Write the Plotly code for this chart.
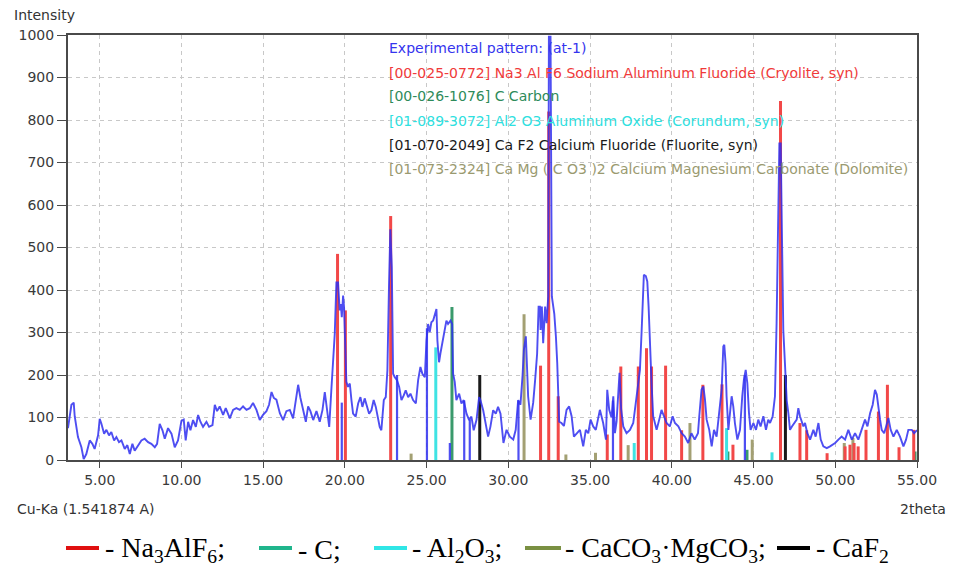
import plotly.graph_objects as go

# ---------------- data ----------------
exp_x = [3.06, 3.27, 3.41, 3.47, 3.67, 3.88, 4.02, 4.18, 4.39, 4.55, 4.69, 4.90, 5.00, 5.10, 5.27, 5.41, 5.57, 5.71, 5.88, 6.02,
         6.18, 6.33, 6.53, 6.69, 6.84, 7.00, 7.14, 7.35, 7.55, 7.75, 7.96, 8.16, 8.37, 8.51, 8.67, 8.84, 8.98, 9.18, 9.39, 9.59,
         9.79, 10.00, 10.14, 10.26, 10.41, 10.55, 10.71, 10.88, 11.02, 11.16, 11.32, 11.53, 11.69, 11.90, 12.04, 12.18, 12.34, 12.55, 12.71, 12.96,
         13.16, 13.36, 13.57, 13.77, 13.98, 14.18, 14.38, 14.59, 14.79, 14.99, 15.20, 15.36, 15.51, 15.65, 15.81, 16.02, 16.22, 16.42, 16.63, 16.83,
         17.04, 17.14, 17.28, 17.44, 17.61, 17.75, 17.89, 18.06, 18.26, 18.46, 18.63, 18.77, 18.87, 19.04, 19.17, 19.28, 19.38, 19.48, 19.58, 19.68,
         19.75, 19.81, 19.89, 19.95, 20.09, 20.19, 20.30, 20.40, 20.50, 20.66, 20.81, 20.95, 21.07, 21.21, 21.32, 21.48, 21.62, 21.76, 21.89, 22.03,
         22.13, 22.23, 22.38, 22.50, 22.60, 22.70, 22.78, 22.87, 22.95, 23.05, 23.19, 23.32, 23.46, 23.60, 23.72, 23.87, 24.01, 24.17, 24.34, 24.48,
         24.62, 24.74, 24.89, 24.99, 25.09, 25.19, 25.29, 25.40, 25.50, 25.60, 25.66, 25.76, 25.84, 25.97, 26.11, 26.21, 26.31, 26.46, 26.56, 26.62,
         26.72, 26.82, 26.99, 27.13, 27.27, 27.44, 27.60, 27.74, 27.88, 28.05, 28.21, 28.29, 28.46, 28.60, 28.76, 28.90, 29.07, 29.23, 29.37, 29.52,
         29.60, 29.70, 29.89, 30.09, 30.30, 30.45, 30.60, 30.74, 30.87, 30.95, 31.07, 31.15, 31.21, 31.36, 31.52, 31.64, 31.76, 31.85, 31.93, 31.97,
         32.05, 32.13, 32.25, 32.34, 32.44, 32.48, 32.58, 32.66, 32.81, 32.91, 32.99, 33.11, 33.25, 33.40, 33.56, 33.72, 33.87, 34.01, 34.17, 34.38,
         34.58, 34.74, 34.89, 35.03, 35.19, 35.35, 35.60, 35.80, 35.97, 36.05, 36.17, 36.31, 36.42, 36.52, 36.62, 36.72, 36.80, 36.90, 37.03, 37.23,
         37.44, 37.64, 37.80, 37.90, 38.05, 38.15, 38.22, 38.29, 38.41, 38.50, 38.58, 38.66, 38.76, 38.86, 39.07, 39.23, 39.37, 39.52, 39.68, 39.88,
         40.05, 40.19, 40.40, 40.60, 40.80, 41.00, 41.20, 41.40, 41.60, 41.68, 41.82, 41.93, 42.03, 42.13, 42.29, 42.44, 42.58, 42.74, 42.90, 43.05,
         43.15, 43.21, 43.29, 43.35, 43.46, 43.56, 43.66, 43.76, 43.86, 44.01, 44.17, 44.31, 44.41, 44.52, 44.62, 44.72, 44.82, 44.99, 45.15, 45.29,
         45.43, 45.60, 45.76, 45.90, 46.01, 46.17, 46.31, 46.41, 46.48, 46.58, 46.66, 46.74, 46.82, 46.92, 47.03, 47.13, 47.23, 47.35, 47.64, 47.74,
         47.84, 48.05, 48.15, 48.29, 48.46, 48.66, 48.80, 48.97, 49.11, 49.27, 49.48, 49.68, 49.99, 50.19, 50.39, 50.60, 50.80, 51.01, 51.21, 51.41,
         51.62, 51.82, 51.97, 52.13, 52.29, 52.43, 52.54, 52.64, 52.74, 52.84, 52.99, 53.11, 53.25, 53.39, 53.56, 53.76, 53.96, 54.17, 54.33, 54.47,
         54.68, 54.82, 55.00]
exp_y = [75, 130, 135, 103, 54, 30, 2, 14, 46, 38, 26, 58, 97, 86, 62, 71, 58, 66, 46, 54,
         42, 46, 26, 35, 14, 38, 22, 35, 46, 50, 42, 38, 30, 38, 85, 70, 50, 75, 62, 30,
         46, 92, 95, 46, 90, 70, 94, 78, 106, 90, 78, 90, 78, 82, 130, 115, 126, 106, 122, 98,
         118, 122, 118, 126, 118, 122, 134, 118, 94, 106, 115, 130, 160, 146, 142, 110, 94, 115, 118, 98,
         150, 177, 146, 118, 90, 126, 115, 94, 115, 90, 118, 160, 126, 78, 164, 234, 297, 418, 418, 352,
         367, 336, 387, 359, 184, 172, 180, 141, 109, 102, 133, 148, 125, 145, 129, 109, 117, 141, 125, 102,
         78, 70, 141, 148, 211, 414, 543, 453, 203, 195, 188, 172, 141, 152, 164, 148, 156, 141, 133, 188,
         219, 203, 195, 281, 320, 301, 324, 328, 344, 355, 281, 230, 250, 281, 312, 328, 320, 328, 320, 203,
         184, 141, 156, 133, 141, 109, 94, 102, 70, 94, 148, 141, 117, 86, 55, 78, 117, 109, 125, 109,
         80, 40, 71, 55, 48, 71, 141, 130, 200, 259, 291, 229, 150, 95, 135, 189, 250, 361, 361, 306,
         361, 275, 361, 322, 385, 996, 996, 385, 344, 290, 229, 90, 87, 80, 118, 126, 103, 55, 63, 71,
         32, 71, 63, 95, 79, 71, 118, 87, 48, 165, 118, 100, 150, 63, 90, 150, 205, 120, 79, 63,
         71, 87, 134, 165, 212, 300, 400, 436, 433, 420, 361, 267, 181, 103, 71, 95, 118, 103, 87, 79,
         103, 87, 79, 63, 55, 40, 63, 48, 63, 103, 166, 173, 142, 95, 71, 32, 71, 55, 111, 166,
         267, 271, 228, 150, 71, 118, 150, 126, 87, 48, 71, 150, 189, 212, 181, 111, 71, 87, 71, 95,
         79, 103, 71, 95, 87, 103, 150, 322, 479, 745, 745, 502, 306, 228, 140, 110, 71, 79, 95, 122,
         103, 79, 87, 63, 48, 71, 55, 87, 48, 32, 28, 32, 40, 48, 55, 48, 71, 48, 63, 48,
         71, 95, 79, 110, 130, 165, 154, 118, 95, 71, 63, 79, 99, 71, 55, 71, 55, 32, 48, 71,
         71, 63, 70]

# vertical drop-outs of the experimental pattern
drop_x = [19.81, 23.19, 25.02, 26.42, 27.30, 27.64, 30.62, 36.40, 44.47]
drop_y = [135, 200, 310, 40, 140, 95, 140, 140, 200]

# reference patterns (stick positions / intensities)
na3alf6_x = [19.55, 20.03, 22.80, 31.97, 32.47, 33.05, 36.05, 36.88, 37.95, 38.45, 38.76, 39.62, 40.60, 41.90, 43.07,
             43.74, 46.65, 47.84, 48.25, 49.50, 50.60, 50.90, 51.15, 51.40, 51.88, 52.64, 53.19, 53.90, 54.80]
na3alf6_y = [485, 352, 574, 222, 820, 150, 60, 220, 220, 263, 220, 222, 70, 177, 178,
             36, 845, 87, 70, 16, 32, 36, 40, 32, 71, 114, 177, 30, 71]
carbon_x = [26.55, 43.43, 44.60, 54.88]
carbon_y = [360, 20, 24, 20]
al2o3_x = [25.56, 37.70, 43.35, 46.13]
al2o3_y = [265, 40, 75, 18]
caf2_x = [28.25, 46.95]
caf2_y = [200, 200]
dolomite_x = [24.05, 30.96, 33.52, 35.33, 37.33, 41.11, 44.92, 50.55, 51.08]
dolomite_y = [15, 343, 13, 17, 35, 87, 48, 40, 52]

ref_labels = ["Experimental pattern: (at-1)",
              "[00-025-0772] Na3 Al F6 Sodium Aluminum Fluoride (Cryolite, syn)",
              "[00-026-1076] C Carbon",
              "[01-089-3072] Al2 O3 Aluminum Oxide (Corundum, syn)",
              "[01-070-2049] Ca F2 Calcium Fluoride (Fluorite, syn)",
              "[01-073-2324] Ca Mg ( C O3 )2 Calcium Magnesium Carbonate (Dolomite)"]
ref_colors = ["#3434ee", "#f03a3a", "#2e8b5a", "#2ee0e0", "#1a1a1a", "#9a9a70"]

legend_labels = ["- Na<sub>3</sub>AlF<sub>6</sub>;", "- C;", "- Al<sub>2</sub>O<sub>3</sub>;",
                 "- CaCO<sub>3</sub>·MgCO<sub>3</sub>;", "- CaF<sub>2</sub>"]
legend_colors = ["#e01010", "#1fb58c", "#30e6e6", "#7a9042", "#000000"]

x_ticks = [5, 10, 15, 20, 25, 30, 35, 40, 45, 50, 55]


def sticks(xs, hs):
    X, Y = [], []
    for x, h in zip(xs, hs):
        X += [x, x, None]
        Y += [0, h, None]
    return X, Y


fig = go.Figure()
for xs, hs, col in [(dolomite_x, dolomite_y, "#a3a073"), (carbon_x, carbon_y, "#3a9a6c"),
                    (al2o3_x, al2o3_y, "#3fe3e3"), (caf2_x, caf2_y, "#1a1a1a"),
                    (na3alf6_x, na3alf6_y, "#f24848")]:
    X, Y = sticks(xs, hs)
    fig.add_trace(go.Scatter(x=X, y=Y, mode="lines", line=dict(color=col, width=3),
                             hoverinfo="skip", showlegend=False))

DX, DY = sticks(drop_x, drop_y)
fig.add_trace(go.Scatter(x=DX, y=DY, mode="lines", line=dict(color="#3030f0", width=2.2),
                         opacity=0.85, showlegend=False))
fig.add_trace(go.Scatter(x=exp_x, y=exp_y, mode="lines", line=dict(color="#3030f0", width=1.9),
                         opacity=0.85, showlegend=False))

# ----- layout -----
L, R, T, B = 68, 38, 35, 106
W, H = 955, 566
pw, ph = W - L - R, H - T - B


def px2paper(px, py):
    return (px - L) / pw, (H - B - py) / ph


axis_font = dict(family="DejaVu Sans", size=14, color="#3a3a3a")
fig.update_layout(
    width=W, height=H, margin=dict(l=L, r=R, t=T, b=B),
    paper_bgcolor="white", plot_bgcolor="white", showlegend=False,
    xaxis=dict(range=[3.06, 55.0], tickvals=x_ticks, ticktext=[f"{v:.2f}" for v in x_ticks],
               showgrid=True, gridcolor="#c8c8c8", griddash="4px,4px", gridwidth=1,
               showline=True, linecolor="#4a4a4a", linewidth=2, mirror=True,
               ticks="outside", ticklen=6, tickcolor="#4a4a4a", tickfont=axis_font, zeroline=False),
    yaxis=dict(range=[0, 1000], dtick=100, tick0=0,
               showgrid=True, gridcolor="#c8c8c8", griddash="4px,4px", gridwidth=1,
               showline=True, linecolor="#4a4a4a", linewidth=2, mirror=True,
               ticks="outside", ticklen=9, tickcolor="#4a4a4a", tickfont=axis_font, zeroline=False),
)

ann = []
# phase list inside plot
for i, (txt, col) in enumerate(zip(ref_labels, ref_colors)):
    x, y = px2paper(387, 48.5 + i * 24)
    ann.append(dict(text=txt, x=x, y=y, xref="paper", yref="paper", xanchor="left", yanchor="middle",
                    showarrow=False, font=dict(family="DejaVu Sans", size=14, color=col)))

side_font = dict(family="DejaVu Sans", size=14, color="#333")
x, y = px2paper(12, 15)
ann.append(dict(text="Intensity", x=x, y=y, xref="paper", yref="paper", xanchor="left", yanchor="middle",
                showarrow=False, font=side_font))
x, y = px2paper(15, 509)
ann.append(dict(text="Cu-Ka (1.541874 A)", x=x, y=y, xref="paper", yref="paper", xanchor="left", yanchor="middle",
                showarrow=False, font=side_font))
x, y = px2paper(948, 509)
ann.append(dict(text="2theta", x=x, y=y, xref="paper", yref="paper", xanchor="right", yanchor="middle",
                showarrow=False, font=side_font))

# bottom legend
seg_px = [(66, 99), (259, 292), (374, 407), (525, 561), (777, 810)]
txt_px = [103, 296, 410, 563, 814]
shapes = []
for (a, b), tx, lab, col in zip(seg_px, txt_px, legend_labels, legend_colors):
    x0, yy = px2paper(a, 548)
    x1, _ = px2paper(b, 548)
    shapes.append(dict(type="line", xref="paper", yref="paper", x0=x0, x1=x1, y0=yy, y1=yy,
                       line=dict(color=col, width=4)))
    xt, yt = px2paper(tx, 549)
    ann.append(dict(text=lab, x=xt, y=yt, xref="paper", yref="paper", xanchor="left", yanchor="middle",
                    showarrow=False, font=dict(family="Liberation Serif", size=28, color="#000")))

fig.update_layout(annotations=ann, shapes=shapes)
fig.write_html("out.html")
